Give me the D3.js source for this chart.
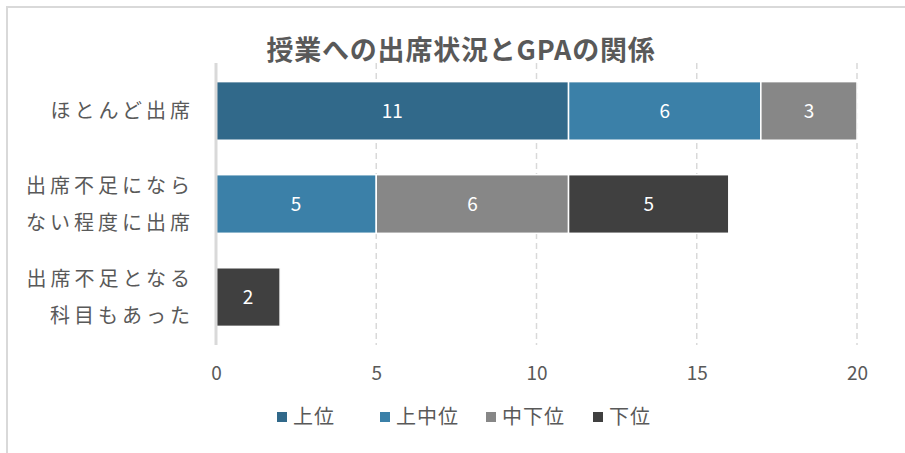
<!DOCTYPE html>
<html><head><meta charset="utf-8">
<script src="https://cdn.jsdelivr.net/npm/d3@7"></script>
<style>body{margin:0;background:#fff}svg{display:block}</style>
</head><body><svg id="c" width="905" height="453"></svg>
<script>
const categories = [["ほとんど出席"], ["出席不足になら","ない程度に出席"], ["出席不足となる","科目もあった"]];
const seriesNames = ["上位","上中位","中下位","下位"];
const seriesColors = ["#31698a","#3b80a8","#878787","#404040"];
const values = [
  [11, 6, 3, 0],
  [0, 5, 6, 5],
  [0, 0, 0, 2]
];
const xTicks = [0,5,10,15,20];
const title = "授業への出席状況とGPAの関係";

const svg = d3.select("#c");
const font = "'Noto Sans CJK JP', 'Noto Sans', sans-serif";
// frame
svg.append("line").attr("x1",6).attr("x2",905).attr("y1",7).attr("y2",7).attr("stroke","#d9d9d9").attr("stroke-width",2);
svg.append("line").attr("x1",7).attr("x2",7).attr("y1",7).attr("y2",453).attr("stroke","#d9d9d9").attr("stroke-width",2);

const x = d3.scaleLinear().domain([0,20]).range([216,857]);
const y = d3.scaleBand().domain(d3.range(categories.length)).range([63,345]).paddingInner(0.37).paddingOuter(0.2);

// grid
svg.append("g").selectAll("line").data(xTicks.filter(t=>t>0)).join("line")
  .attr("x1",d=>x(d)).attr("x2",d=>x(d)).attr("y1",63).attr("y2",345)
  .attr("stroke","#d9d9d9").attr("stroke-width",1.5).attr("stroke-dasharray","6,4");

// stacked bars
const stackData = values.map((row,i)=>{const o={i};row.forEach((v,j)=>o[j]=v);return o;});
const stack = d3.stack().keys(d3.range(seriesNames.length))(stackData);
const gBars = svg.append("g");
stack.forEach((layer,k)=>{
  layer.forEach((seg,i)=>{
    const v = seg[1]-seg[0];
    if(v<=0) return;
    gBars.append("rect").attr("x",x(seg[0])).attr("y",y(i)).attr("width",x(seg[1])-x(seg[0])).attr("height",y.bandwidth())
      .attr("fill",seriesColors[k]).attr("stroke","#fff").attr("stroke-width",1.5);
    gBars.append("text").attr("x",(x(seg[0])+x(seg[1]))/2).attr("y",y(i)+y.bandwidth()/2).attr("dy","0.36em")
      .attr("text-anchor","middle").attr("fill","#fff").attr("font-family",font).attr("font-size",19).text(v);
  });
});

// y axis line
svg.append("line").attr("x1",x(0)).attr("x2",x(0)).attr("y1",63).attr("y2",345).attr("stroke","#d9d9d9").attr("stroke-width",3);

// category labels
categories.forEach((lines,i)=>{
  const cy = y(i)+y.bandwidth()/2;
  const lh = 37;
  lines.forEach((t,j)=>{
    svg.append("text").attr("x",194).attr("y",cy+(j-(lines.length-1)/2)*lh).attr("dy","0.36em")
      .attr("text-anchor","end").attr("fill","#595959").attr("font-family",font).attr("font-size",20)
      .attr("letter-spacing","4px").text(t);
  });
});

// x tick labels
const xAxis = d3.axisBottom(x).tickValues(xTicks).tickSize(0).tickPadding(0);
const ga = svg.append("g").attr("transform","translate(0,366)").call(xAxis);
ga.select(".domain").remove();
ga.selectAll("text").attr("font-family",font).attr("font-size",19).attr("fill","#595959").attr("dy","0.71em");

// title
svg.append("text").attr("x",461).attr("y",50).attr("text-anchor","middle").attr("font-family",font)
  .attr("font-weight","bold").attr("font-size",27).attr("letter-spacing","0.8px").attr("fill","#595959").attr("dy","0.36em").text(title);

// legend
const legX = [277, 380, 486, 593];
seriesNames.forEach((n,k)=>{
  const g = svg.append("g");
  g.append("rect").attr("x",legX[k]).attr("y",412).attr("width",10).attr("height",10).attr("fill",seriesColors[k]);
  g.append("text").attr("x",legX[k]+16).attr("y",417).attr("dy","0.36em").attr("font-family",font)
    .attr("font-size",20).attr("letter-spacing","1px").attr("fill","#595959").text(n);
});
</script></body></html>
